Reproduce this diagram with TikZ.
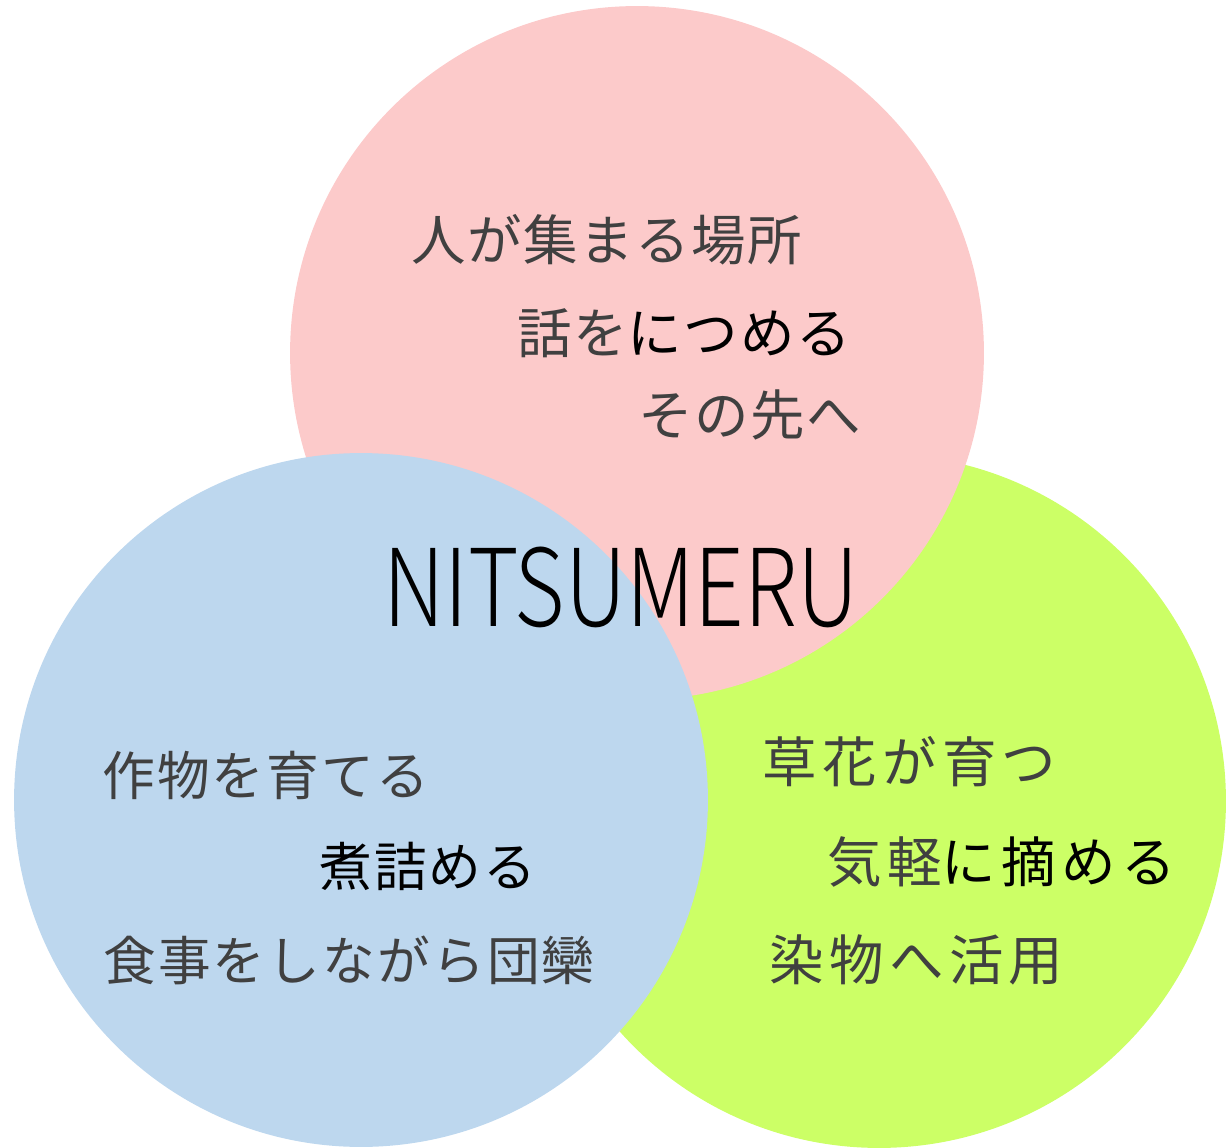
\documentclass[tikz,border=0pt]{standalone}
\usepackage{fontspec}
\usetikzlibrary{positioning}
\newfontfamily\pinkfont[LetterSpace=3]{Noto Sans CJK JP}
\newfontfamily\bluefont[LetterSpace=4]{Noto Sans CJK JP}
\newfontfamily\greenfont[LetterSpace=10]{Noto Sans CJK JP}
\newfontfamily\titlefont{Noto Sans CJK JP Light}
\definecolor{pinkc}{HTML}{FCCACA}
\definecolor{bluec}{HTML}{BDD7EE}
\definecolor{greenc}{HTML}{CCFF66}
\definecolor{inkc}{HTML}{404040}

\begin{document}
\begin{tikzpicture}[
    x = 0.02cm, y = -0.02cm,
    kreis/.style = {circle, minimum size = 13.88cm, inner sep = 0pt},
    zeile/.style = {anchor = west, inner sep = 0pt, text = inkc},
    pz/.style = {zeile, font = \pinkfont\fontsize{31}{31}\selectfont},
    bz/.style = {zeile, font = \bluefont\fontsize{30}{30}\selectfont},
    gz/.style = {zeile, font = \greenfont\fontsize{31}{31}\selectfont},
    titel/.style = {inner sep = 0pt, font = \titlefont\fontsize{61}{61}\selectfont, xscale = 0.81}
    ]

  \useasboundingbox (0,0) rectangle (1226,1148);

  % circles: green under pink under blue
  \node[kreis, fill = greenc] (green) at (879,801) {};
  \node[kreis, fill = pinkc] (pink) at (637,353) {};
  \node[kreis, fill = bluec] (blue) at (361,800) {};

  \node[pz] (p1) at (411,240) {人が集まる場所};
  \node[pz] (p2) at (517,333) {話を{\color{black}につめる}};
  \node[pz] (p3) at (638,415) {その先へ};

  \node[bz] (b1) at (102,775) {作物を育てる};
  \node[bz] (b2) at (319,866) {{\color{black}煮詰める}};
  \node[bz] (b3) at (103,960) {食事をしながら団欒};

  \node[gz] (g1) at (762,762) {草花が育つ};
  \node[gz] (g2) at (827,862) {気軽{\color{black}に摘める}};
  \node[gz] (g3) at (769,960) {染物へ活用};

  \node[titel] (title) at (621,587) {NITSUMERU};
\end{tikzpicture}
\end{document}
